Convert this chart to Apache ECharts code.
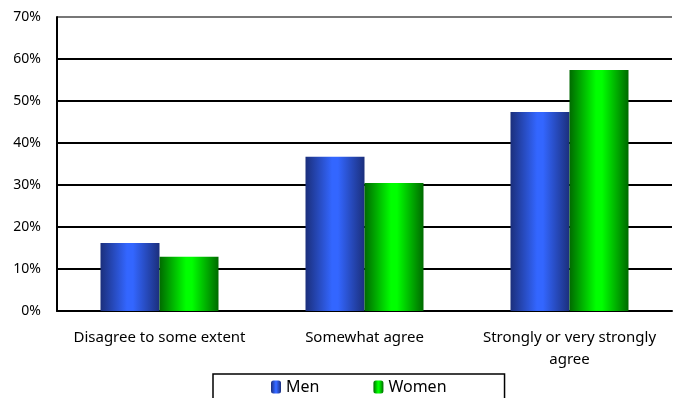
<!DOCTYPE html>
<html>
<head>
<meta charset="utf-8" />
<title>Agreement by gender</title>
<script src="https://cdn.jsdelivr.net/npm/echarts@6/dist/echarts.min.js"></script>
<style>
  html, body { margin: 0; padding: 0; background: #fff; }
  #chart { width: 674px; height: 398px; }
</style>
</head>
<body>
<div id="chart"></div>
<script>
  var categories = ['Disagree to some extent', 'Somewhat agree', 'Strongly or very strongly\nagree'];
  var men = [16.2, 36.7, 47.4];
  var women = [12.9, 30.5, 57.4];
  var yTicks = [0, 10, 20, 30, 40, 50, 60, 70];

  function barGradient(edge, mid) {
    return new echarts.graphic.LinearGradient(0, 0, 1, 0, [
      { offset: 0, color: edge },
      { offset: 0.45, color: mid },
      { offset: 0.55, color: mid },
      { offset: 1, color: edge }
    ]);
  }

  var chart = echarts.init(document.getElementById('chart'));
  var font = 'Noto Sans';

  chart.setOption({
    animation: false,
    grid: { left: 57, right: 2, top: 17, bottom: 87 },
    legend: {
      data: ['Men', 'Women'],
      top: 374,
      left: 213,
      width: 292,
      padding: [5, 58, 30, 58],
      itemGap: 54,
      itemWidth: 10,
      itemHeight: 13,
      borderColor: '#000',
      borderWidth: 1.5,
      textStyle: { fontFamily: font, fontSize: 16, color: '#000' }
    },
    xAxis: {
      type: 'category',
      data: categories,
      axisLine: { lineStyle: { color: '#000', width: 2 } },
      axisTick: { show: false },
      axisLabel: {
        interval: 0, hideOverlap: false,
        fontFamily: font, fontSize: 15, color: '#000', margin: 16, lineHeight: 22
      }
    },
    yAxis: {
      type: 'value',
      min: yTicks[0],
      max: yTicks[yTicks.length - 1],
      interval: 10,
      axisLine: { show: true, lineStyle: { color: '#000', width: 2 } },
      axisTick: { show: false },
      axisLabel: {
        fontFamily: font, fontSize: 14, color: '#000', margin: 16,
        formatter: function (v) { return v + '%'; }
      },
      splitLine: {
        lineStyle: {
          color: yTicks.map(function (t, i) { return i === yTicks.length - 1 ? '#777' : '#000'; }),
          width: 2
        }
      }
    },
    series: [
      {
        name: 'Men', type: 'bar', data: men, barWidth: 59, barGap: '0%',
        itemStyle: { color: barGradient('#1b2f7c', '#3366ff') }
      },
      {
        name: 'Women', type: 'bar', data: women, barWidth: 59,
        itemStyle: { color: barGradient('#006a00', '#00ff00') }
      }
    ]
  });
</script>
</body>
</html>
